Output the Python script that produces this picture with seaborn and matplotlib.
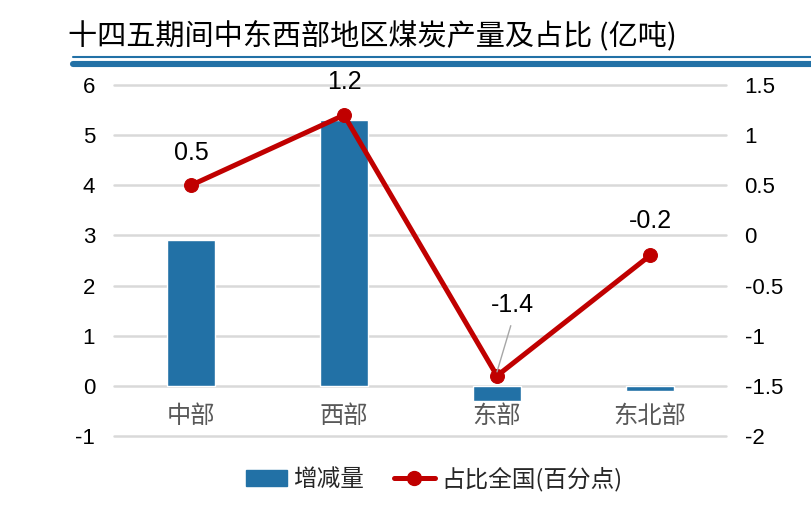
import matplotlib
matplotlib.use("Agg")
import matplotlib.pyplot as plt
import pandas as pd
import seaborn as sns
from matplotlib.lines import Line2D
from matplotlib.patches import Patch

regions = ['中部', '西部', '东部', '东北部']
change = [2.9, 5.3, -0.3, -0.1]        # 增减量 (亿吨)
share = [0.5, 1.2, -1.4, -0.2]         # 占比全国 (百分点)

BLUE = '#2271a6'
RED = '#c00000'
NUM_FONT = 'Liberation Sans'

sns.set_theme(style='white')
plt.rcParams['font.family'] = ['Noto Sans CJK SC', 'DejaVu Sans']

df = pd.DataFrame({'region': regions, 'change': change, 'share': share})

fig = plt.figure(figsize=(8.12, 5.11), dpi=100)
ax1 = fig.add_axes([114.5 / 812, 1 - 436 / 511, 612 / 812, 351 / 511])

sns.barplot(data=df, x='region', y='change', color=BLUE, width=0.31,
            saturation=1, ax=ax1, zorder=3)
ax1.set_xlim(-0.5, 3.5)
ax1.set_ylim(-1, 6)
ax1.set_yticks(range(-1, 7))
ax1.set_yticklabels([str(v) for v in range(-1, 7)])
ax1.yaxis.grid(True, color='#d9d9d9', lw=1.8)
for gl in ax1.get_ygridlines():
    gl.set_clip_on(False)
ax1.set_axisbelow(True)
ax1.set_xlabel('')
ax1.set_ylabel('')
ax1.tick_params(axis='y', labelsize=16, colors='black', length=0, pad=14)
for lab in ax1.get_yticklabels():
    lab.set_family(NUM_FONT)
# category labels sit just under the zero line
ax1.set_xticks(range(len(regions)))
ax1.set_xticklabels([])
for i, r in enumerate(regions):
    ax1.text(i, -0.6, r, ha='center', va='center', fontsize=17.5, color='#595959',
             fontweight='medium')
for s in ax1.spines.values():
    s.set_visible(False)

ax2 = ax1.twinx()
sns.lineplot(x=range(len(regions)), y=share, color=RED, lw=3.6, marker='o',
             markersize=10, markeredgecolor=RED, ax=ax2, zorder=4)
ax2.set_ylim(-2, 1.5)
ax2.set_yticks([-2, -1.5, -1, -0.5, 0, 0.5, 1, 1.5])
ax2.set_yticklabels(['-2', '-1.5', '-1', '-0.5', '0', '0.5', '1', '1.5'])
ax2.tick_params(axis='y', labelsize=16, colors='black', length=0, pad=13)
for lab in ax2.get_yticklabels():
    lab.set_family(NUM_FONT)
ax2.set_ylabel('')
for s in ax2.spines.values():
    s.set_visible(False)

# data labels
label_pos = [(0, 0.32), (0, 0.33), (0.1, 0.71), (0, 0.34)]
for i, v in enumerate(share):
    dx, dy = label_pos[i]
    ax2.text(i + dx, v + dy, f'{v:g}', ha='center', va='center', fontsize=18,
             color='black', family=NUM_FONT)
ax2.plot([2.0, 2.09], [share[2] + 0.04, share[2] + 0.5], color='#a6a6a6', lw=1, zorder=5)

# title and double rule
fig.text(68 / 812, 1 - 36 / 511, '十四五期间中东西部地区煤炭产量及占比 (亿吨)', fontsize=21,
         ha='left', va='center', color='black')
fig.add_artist(Line2D([73 / 812, 1], [1 - 57 / 511] * 2, color=BLUE, lw=1.5))
fig.add_artist(Line2D([73 / 812, 1], [1 - 63.7 / 511] * 2, color=BLUE, lw=4.4))

handles = [Patch(color=BLUE),
           Line2D([0], [0], color=RED, lw=3.6, marker='o', markersize=10)]
fig.legend(handles, ['增减量', '占比全国(百分点)'], loc='center',
           bbox_to_anchor=(434 / 812, 1 - 479 / 511), ncol=2, frameon=False,
           prop={'size': 17, 'weight': 'medium'}, handlelength=1.75,
           columnspacing=1.25, handletextpad=0.25)

fig.savefig('out.png', dpi=100)
